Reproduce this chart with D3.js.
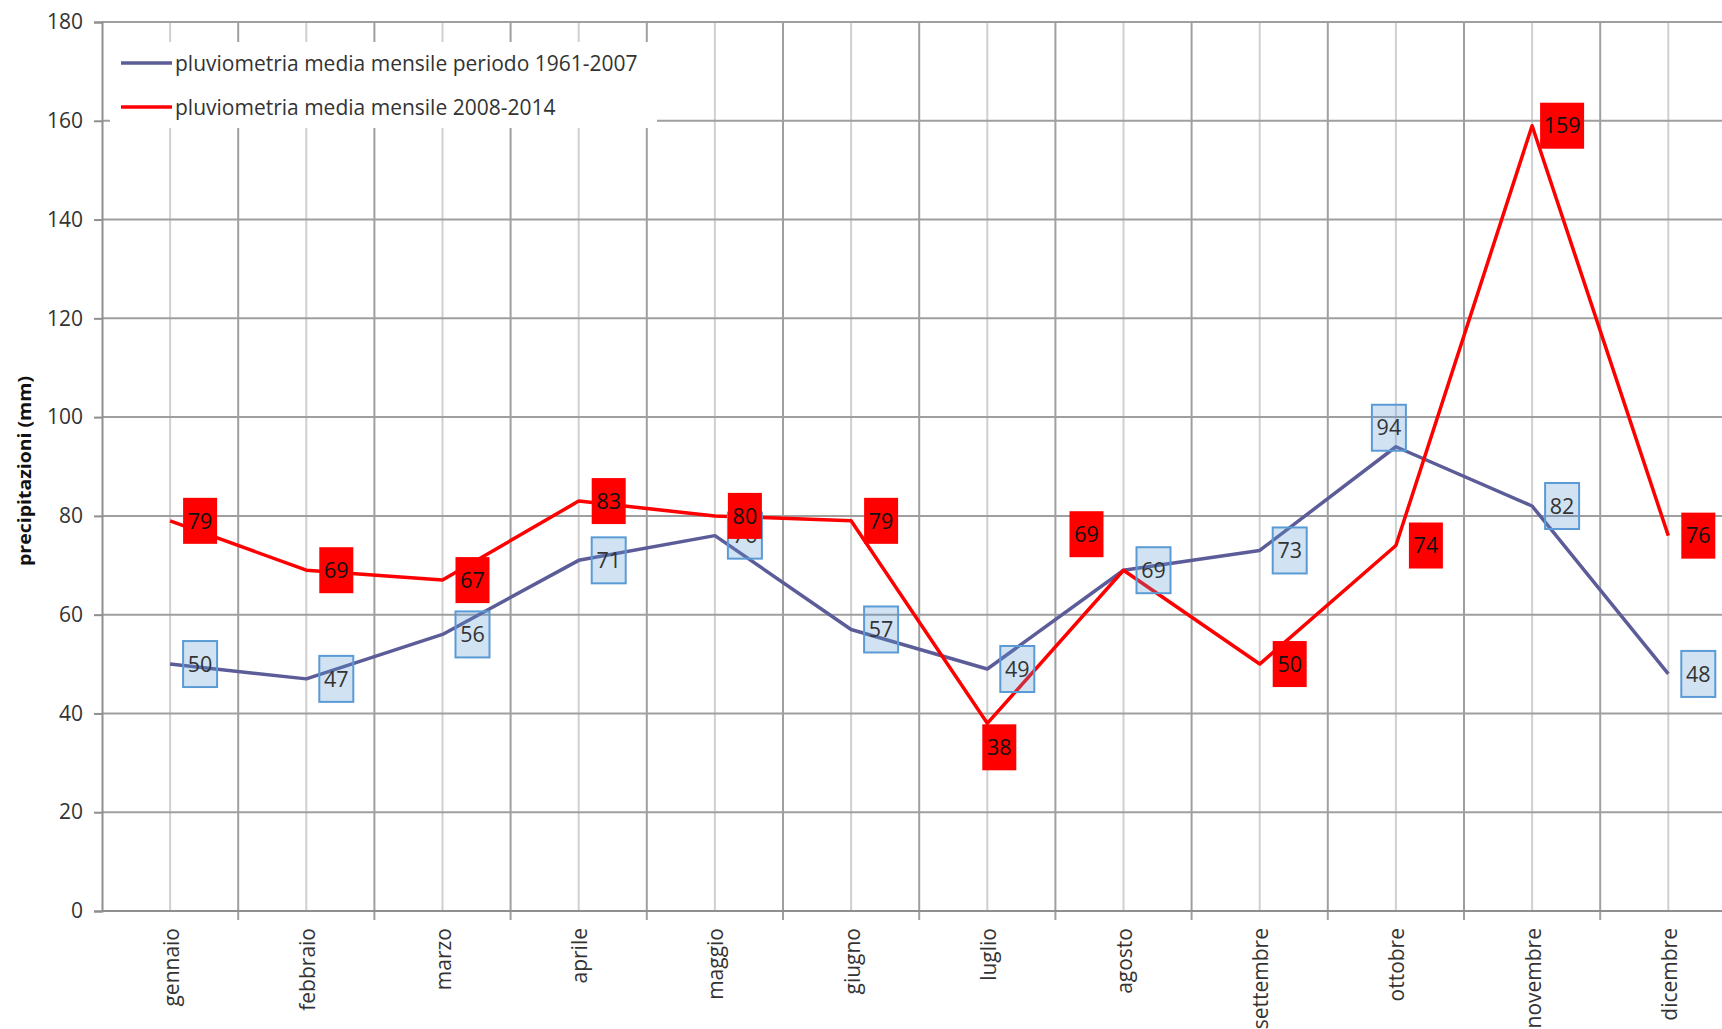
<!DOCTYPE html>
<html lang="it">
<head>
<meta charset="utf-8">
<title>Pluviometria media mensile</title>
<script src="https://cdn.jsdelivr.net/npm/d3@7"></script>
<style>
  html, body { margin: 0; padding: 0; background: #ffffff; }
  svg { display: block; }
  text { font-family: "Open Sans", "DejaVu Sans", sans-serif; }
</style>
</head>
<body>
<svg id="chart" width="1722" height="1029"></svg>
<script>
// Monthly rainfall data (mm)
const months = ["gennaio", "febbraio", "marzo", "aprile", "maggio", "giugno",
                "luglio", "agosto", "settembre", "ottobre", "novembre", "dicembre"];
const media1961_2007 = [50, 47, 56, 71, 76, 57, 49, 69, 73, 94, 82, 48];
const media2008_2014 = [79, 69, 67, 83, 80, 79, 38, 69, 50, 74, 159, 76];
const yTicks = [0, 20, 40, 60, 80, 100, 120, 140, 160, 180];
const seriesNames = ["pluviometria media mensile periodo 1961-2007",
                     "pluviometria media mensile 2008-2014"];
const yTitle = "precipitazioni (mm)";

const svg = d3.select("#chart");

// Plot frame
const plotLeft = 102, plotTop = 22, plotBottom = 911;
const step = 136.2;
const x = d3.scaleBand().domain(months).range([plotLeft, plotLeft + step * months.length]).padding(0);
const y = d3.scaleLinear().domain([0, 180]).range([plotBottom, plotTop]);
const cx = m => x(m) + x.bandwidth() / 2;

const grid = svg.append("g");

// light vertical lines through each month
grid.selectAll("line.vc").data(months).join("line")
  .attr("x1", d => cx(d)).attr("x2", d => cx(d))
  .attr("y1", plotTop).attr("y2", plotBottom)
  .attr("stroke", "#d0d0d0").attr("stroke-width", 2);

// darker vertical lines at month boundaries
const bounds = d3.range(1, months.length + 1).map(i => plotLeft + i * x.step());
grid.selectAll("line.vb").data(bounds).join("line")
  .attr("x1", d => d).attr("x2", d => d)
  .attr("y1", plotTop).attr("y2", plotBottom + 9)
  .attr("stroke", "#9f9f9f").attr("stroke-width", 2);

// horizontal gridlines
grid.selectAll("line.h").data(yTicks.filter(v => v > 0)).join("line")
  .attr("x1", plotLeft).attr("x2", 1722)
  .attr("y1", d => y(d)).attr("y2", d => y(d))
  .attr("stroke", "#9f9f9f").attr("stroke-width", 2);

// Legend background (hides the grid behind it)
svg.append("rect")
  .attr("x", 110).attr("y", 42).attr("width", 547).attr("height", 86)
  .attr("fill", "#ffffff");

// Y axis
const yAxis = svg.append("g")
  .attr("transform", `translate(${plotLeft},0)`)
  .call(d3.axisLeft(y).tickValues(yTicks).tickSize(8).tickPadding(11));
yAxis.select(".domain").attr("stroke", "#8f8f8f").attr("stroke-width", 2);
yAxis.selectAll(".tick line").attr("stroke", "#8f8f8f").attr("stroke-width", 2);
yAxis.selectAll(".tick text")
  .attr("font-family", "'Open Sans', sans-serif")
  .attr("font-size", 21).attr("fill", "#333333");

// X axis line and month labels
const xAxis = svg.append("g")
  .attr("transform", `translate(0,${plotBottom})`)
  .call(d3.axisBottom(x).tickSize(0).tickSizeOuter(0));
xAxis.select(".domain").attr("stroke", "#8f8f8f").attr("stroke-width", 2)
  .attr("d", `M${plotLeft},0H1722`);
xAxis.selectAll(".tick text")
  .attr("font-family", "'Open Sans', sans-serif")
  .attr("font-size", 21).attr("fill", "#333333")
  .attr("text-anchor", "end")
  .attr("transform", "translate(1,17) rotate(-90)")
  .attr("x", 0).attr("y", 0).attr("dy", "0.36em");

// Y axis title
svg.append("text")
  .attr("transform", "translate(25,471) rotate(-90)")
  .attr("text-anchor", "middle").attr("dy", "0.36em")
  .attr("font-size", 18).attr("font-weight", "bold").attr("fill", "#111111")
  .attr("textLength", 190).attr("lengthAdjust", "spacingAndGlyphs")
  .text(yTitle);

// Series lines
const series = [
  { name: seriesNames[0], values: media1961_2007, color: "#5c5c99" },
  { name: seriesNames[1], values: media2008_2014, color: "#ff0000" }
];
const line = d3.line().x((d, i) => cx(months[i])).y(d => y(d));
svg.append("g").selectAll("path").data(series).join("path")
  .attr("d", d => line(d.values))
  .attr("fill", "none").attr("stroke", d => d.color)
  .attr("stroke-width", 3.5).attr("stroke-linejoin", "round");

// Data labels: boxes sit to the right of each point unless moved
const placement = {
  right:     [30, 0],
  above:     [-7, -19],
  below:     [12, 24],
  upperLeft: [-37, -36]
};
const labelSpots = [
  { values: media1961_2007, fill: "rgba(91,155,213,0.28)", stroke: "#5b9bd5", text: "#333333",
    moved: { ottobre: "above" } },
  { values: media2008_2014, fill: "#ff0000", stroke: "none", text: "#111111",
    moved: { luglio: "below", agosto: "upperLeft" } }
];
labelSpots.forEach(s => {
  const g = svg.append("g");
  const items = s.values.map((v, i) => {
    const off = placement[s.moved[months[i]] || "right"];
    return { v, px: cx(months[i]) + off[0], py: y(v) + off[1] };
  });
  const lab = g.selectAll("g").data(items).join("g")
    .attr("transform", d => `translate(${d.px},${d.py})`);
  lab.append("rect")
    .attr("x", d => -(String(d.v).length > 2 ? 22 : 17))
    .attr("y", -23)
    .attr("width", d => String(d.v).length > 2 ? 44 : 34)
    .attr("height", 46)
    .attr("fill", s.fill)
    .attr("stroke", s.stroke).attr("stroke-width", 2);
  lab.append("text")
    .attr("text-anchor", "middle").attr("dy", "0.36em")
    .attr("font-size", 21.5).attr("fill", s.text)
    .text(d => d.v);
});

// Legend
const legend = svg.append("g");
const legendRows = [
  { name: seriesNames[0], color: series[0].color, yy: 63 },
  { name: seriesNames[1], color: series[1].color, yy: 107 }
];
legendRows.forEach(r => {
  legend.append("line")
    .attr("x1", 121).attr("x2", 172).attr("y1", r.yy).attr("y2", r.yy)
    .attr("stroke", r.color).attr("stroke-width", 3.5);
  legend.append("text")
    .attr("x", 175).attr("y", r.yy).attr("dy", "0.36em")
    .attr("font-size", 21).attr("fill", "#333333")
    .text(r.name);
});
</script>
</body>
</html>
